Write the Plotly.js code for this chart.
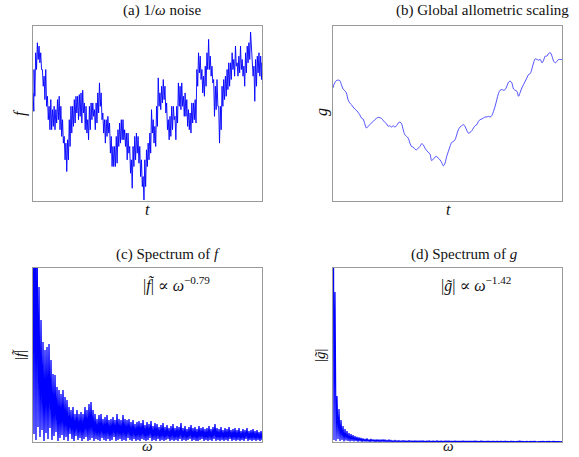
<!DOCTYPE html>
<html>
<head>
<meta charset="utf-8">
<script src="https://cdn.plot.ly/plotly-3.0.1.min.js"></script>
<style>html,body{margin:0;padding:0;background:#fff;}#plot{width:579px;height:457px;}</style>
</head>
<body>
<div id="plot"></div>
<script>
// ---- (a) 1/omega noise: positions along t and upper/lower envelope of the noisy trace ----
const tA = [12,15,20,25,30,35,40,45,50,55,
  60,65,70,75,80,85,90,95,100,105,
  110,115,120,125,130,135,140,145,150,155,
  160,165,170,175,180,185,190,195,200,205,
  210,215,220,225,230,235,240,245,250,255,
  260,265,270,275,280,285,290,295,300,305,
  310,315,320,325,330,335,340,345,350,355,
  360,365,370,375,380,385,390,395,400,405,
  410,415,420,425,430,435,440,445,450,455,
  460,465,470,475,480,485,490,495,500,505,
  510,515,520,525,530,535,540,545,550,555,
  560,565,570,575,580,585,590,595,600,605,
  610,615,620,625,630,635,640,645,650,655,
  660,665,670,675,680,685,690,694];
const fTop = [323,393,443,473,463,443,393,373,393,313,
  283,303,273,283,273,303,313,283,243,193,
  173,183,243,283,283,303,313,313,318,323,
  331,293,283,243,283,293,293,273,293,323,
  353,323,263,243,243,253,233,193,163,163,
  193,213,233,243,243,213,203,203,163,123,
  163,193,203,193,163,123,73,123,153,173,
  203,273,243,223,283,368,323,343,363,343,
  293,243,253,283,283,253,283,353,343,353,
  313,323,303,273,263,293,293,303,393,443,
  433,393,373,403,443,483,433,403,363,343,
  363,283,283,343,363,373,393,413,413,443,
  423,463,413,433,463,423,403,443,463,473,
  505,433,403,423,433,443,433,413];
const fBot = [268,313,393,423,413,393,343,303,283,243,
  213,213,223,213,233,243,213,193,173,123,
  88,123,163,203,223,233,263,243,253,233,
  263,213,203,183,213,243,253,213,233,263,
  283,243,203,173,193,203,143,103,103,103,
  113,163,173,183,183,163,123,143,83,38,
  103,123,143,113,73,43,3,43,103,123,
  143,203,173,163,223,283,273,293,303,263,
  213,183,193,213,243,183,233,283,273,283,
  253,253,223,213,203,233,243,233,343,383,
  363,323,313,343,393,393,373,353,253,273,
  283,173,213,283,303,313,333,343,363,393,
  373,403,373,383,393,373,343,383,413,423,
  443,373,298,343,383,373,363,363];

// ---- (b) global allometric scaling ----
const tB = [10,15,22,30,35,40,45,50,55,60,65,70,75,80,85,90,95,100,105,110,
  115,120,125,130,135,140,145,150,155,160,165,170,175,180,185,190,195,200,205,210,
  215,220,225,230,235,240,245,250,255,260,265,270,275,280,285,290,295,300,305,310,
  315,320,325,330,335,340,345,350,355,360,365,370,375,380,385,390,395,400,405,410,
  415,420,425,430,435,440,445,450,455,460,465,470,475,480,485,490,495,500,505,510,
  515,520,525,530,535,540,545,550,555,560,565,570,575,580,585,590,595,600,605,610,
  615,620,625,630,635,640,645,650,655,660,665,670,675,680,685,690,695];
const gVal = [338,353,361,360,348,335,330,323,303,293,288,281,275,271,265,258,248,245,231,218,
  223,228,233,238,243,247,250,249,247,241,235,231,223,225,221,225,221,225,233,236,
  231,213,198,193,188,173,163,161,155,153,158,163,171,168,158,151,145,141,121,125,
  131,133,128,123,115,105,113,133,148,163,175,178,183,198,213,221,225,228,223,211,
  203,205,210,218,225,228,238,243,245,248,251,251,253,251,255,268,283,303,321,331,
  333,331,333,343,355,358,353,335,331,328,313,325,338,348,358,368,378,381,395,413,
  425,423,421,423,413,421,433,433,441,443,433,418,413,418,423,423,423];

// ---- (c) spectrum of f: local peaks and troughs of |f~| along omega ----
const cPeak = [260,260,230,155,122,100,92,95,98,82,
  68,67,55,52,48,52,45,42,35,32,
  35,28,32,28,30,28,35,32,38,40,
  32,28,23,27,28,23,25,27,22,23,
  25,22,28,23,22,27,23,22,23,20,
  22,18,20,21,19,22,17,20,18,21,
  16,19,18,15,17,19,15,17,14,16,
  18,14,16,15,19,14,16,13,15,17,
  14,15,13,16,14,15,13,14,16,13,
  15,18,14,13,15,12,14,13,15,12,
  13,14,12,14,11,13,12,14,11,12,
  13,11,12,10,11];
const cLow = [8,2,15,5,12,1,9,3,14,2,
  6,10,1,4,7,2,5,1,8,3,
  1,6,2,4,1,3,5,1,2,4,
  1,3,2,1,4,2,1,3,1,2,
  5,1,2,3,1,2,1,4,2,1,
  3,1,2,1,3,2,1,2,4,1,
  2,1,3,1,2,1,2,3,1,2,
  1,2,1,3,1,2,1,2,3,1,
  2,1,1,2,3,1,2,1,2,1,
  3,1,2,1,2,1,2,1,3,1,
  2,1,2,1,2,1,3,1,2,1,
  2,1,2,1,2];

// ---- (d) spectrum of g ----
const dPeak = [400,150,46,33,22,16,13,11,9,8,
  7,6,5,4.5,4,3.5,3,3.5,2.5,3,
  2.5,2,2.5,2,2,2.5,2,1.5,2,1.5,
  1.2,1.5,1.2,1.4,1.1,1.3,1.2,1,1.3,1.1,
  1,1.2,1,1.1,1,1.2,0.9,1,1.1,0.9,
  1,0.9,1.1,0.9,1,0.8,1,0.9,1,0.8,
  0.9,1,0.8,0.9,0.8,1,0.8,0.9,0.8,0.9,
  0.8,0.9,0.8,0.7,0.9,0.8,0.7,0.8,0.9,0.7,
  0.8,0.7,0.8,0.7,0.8,0.7,0.8,0.7,0.6,0.8,
  0.7,0.6,0.7,0.8,0.6,0.7,0.6,0.7,0.6,0.7,
  0.6,0.7,0.6,0.5,0.7,0.6,0.5,0.6,0.7,0.5,
  0.6,0.5,0.6,0.5,0.6];
const dLow = [2,1,3,1,2,0.5,1.5,1,0.5,1,
  0.5,1,0.4,0.8,0.3,0.6,0.4,0.5,0.3,0.6,
  0.4,0.3,0.5,0.3,0.4,0.3,0.5,0.3,0.4,0.3,
  0.3,0.4,0.3,0.2,0.4,0.3,0.2,0.3,0.4,0.2,
  0.3,0.2,0.3,0.4,0.2,0.3,0.2,0.3,0.2,0.3,
  0.2,0.3,0.2,0.3,0.2,0.3,0.2,0.2,0.3,0.2,
  0.3,0.2,0.2,0.3,0.2,0.2,0.3,0.2,0.2,0.3,
  0.2,0.2,0.3,0.2,0.2,0.3,0.2,0.2,0.3,0.2,
  0.2,0.3,0.2,0.2,0.3,0.2,0.2,0.3,0.2,0.2,
  0.3,0.2,0.2,0.3,0.2,0.2,0.3,0.2,0.2,0.3,
  0.2,0.2,0.3,0.2,0.2,0.3,0.2,0.2,0.3,0.2,
  0.2,0.3,0.2,0.2,0.3];

// text
const titles = ["(a) 1/<i>ω</i> noise", "(b) Global allometric scaling", "(c) Spectrum of <i>f</i>", "(d) Spectrum of <i>g</i>"];

// build zig-zag traces (alternating top / bottom readings)
function zig(xs, hi, lo, dx) {
  const x = [], y = [];
  for (let i = 0; i < hi.length; i++) {
    x.push(xs[i]); y.push(hi[i]);
    x.push(xs[i] + dx); y.push(lo[i]);
  }
  return {x, y};
}
const za = zig(tA, fTop, fBot, 2.5);
const wPk = cPeak.map((_, k) => 2 * k);
const zc = zig(wPk, cPeak, cLow, 1);
const zd = zig(wPk, dPeak, dLow, 1);

const blue = '#0000ff';
const traces = [
  {x: za.x, y: za.y, xaxis: 'x', yaxis: 'y', mode: 'lines', line: {color: blue, width: 0.9}, hoverinfo: 'skip'},
  {x: tB, y: gVal, xaxis: 'x2', yaxis: 'y2', mode: 'lines', line: {color: blue, width: 0.8, shape: 'spline'}, opacity: 0.85, hoverinfo: 'skip'},
  {x: zc.x, y: zc.y, xaxis: 'x3', yaxis: 'y3', mode: 'lines', line: {color: blue, width: 1.3}, hoverinfo: 'skip'},
  {x: zd.x, y: zd.y, xaxis: 'x4', yaxis: 'y4', mode: 'lines', line: {color: blue, width: 1.2}, hoverinfo: 'skip'}
];

const W = 579, H = 457;
const px = v => v / W, py = v => 1 - v / H;
function ax(d0, d1, r, anchor) {
  return {domain: [d0, d1], range: r, anchor: anchor, showticklabels: false, ticks: '', showgrid: false,
    zeroline: false, showline: true, mirror: true, linecolor: '#9a9a9a', linewidth: 1, fixedrange: true};
}
const font = {family: '"Liberation Serif", "DejaVu Serif", serif', size: 15, color: '#111'};
function ann(text, x, y, angle, size, yanchor) {
  return {text: text, x: px(x), y: py(y), xref: 'paper', yref: 'paper', showarrow: false,
    xanchor: 'center', yanchor: yanchor || 'middle', textangle: angle || 0,
    font: Object.assign({}, font, size ? {size: size} : {})};
}
const layout = {
  width: W, height: H, margin: {l: 0, r: 0, t: 0, b: 0}, showlegend: false,
  paper_bgcolor: '#fff', plot_bgcolor: '#fff',
  xaxis: ax(px(33), px(262), [12, 694], 'y'),
  yaxis: ax(py(201), py(26), [0, 523], 'x'),
  xaxis2: ax(px(333), px(562), [10, 695], 'y2'),
  yaxis2: ax(py(201), py(26), [0, 523], 'x2'),
  xaxis3: ax(px(33), px(262), [0, 229], 'y3'),
  yaxis3: ax(py(442), py(268), [0, 174], 'x3'),
  xaxis4: ax(px(333), px(562), [0, 229], 'y4'),
  yaxis4: ax(py(442), py(268), [0, 174], 'x4'),
  annotations: [
    ann(titles[0], 162, 11),
    ann(titles[1], 482, 11),
    ann(titles[2], 168, 254),
    ann(titles[3], 464, 254),
    ann('<i>f</i>', 20, 113, -90, 16),
    ann('<i>g</i>', 322, 112, -90, 16),
    ann('<i>t</i>', 147, 210, 0, 16),
    ann('<i>t</i>', 448, 210, 0, 16),
    ann('|<i>f\u0303</i>|', 20, 355, -90),
    ann('|<i>g\u0303</i>|', 320, 355, -90),
    ann('<i>ω</i>', 147, 456, 0, 15, 'bottom'),
    ann('<i>ω</i>', 448, 456, 0, 15, 'bottom'),
    ann('|<i>f\u0303</i>| ∝ <i>ω</i><sup>−0.79</sup>', 176, 284, 0, 16),
    ann('|<i>g\u0303</i>| ∝ <i>ω</i><sup>−1.42</sup>', 476, 284, 0, 16)
  ]
};
Plotly.newPlot('plot', traces, layout, {displayModeBar: false, staticPlot: true});
</script>
</body>
</html>
